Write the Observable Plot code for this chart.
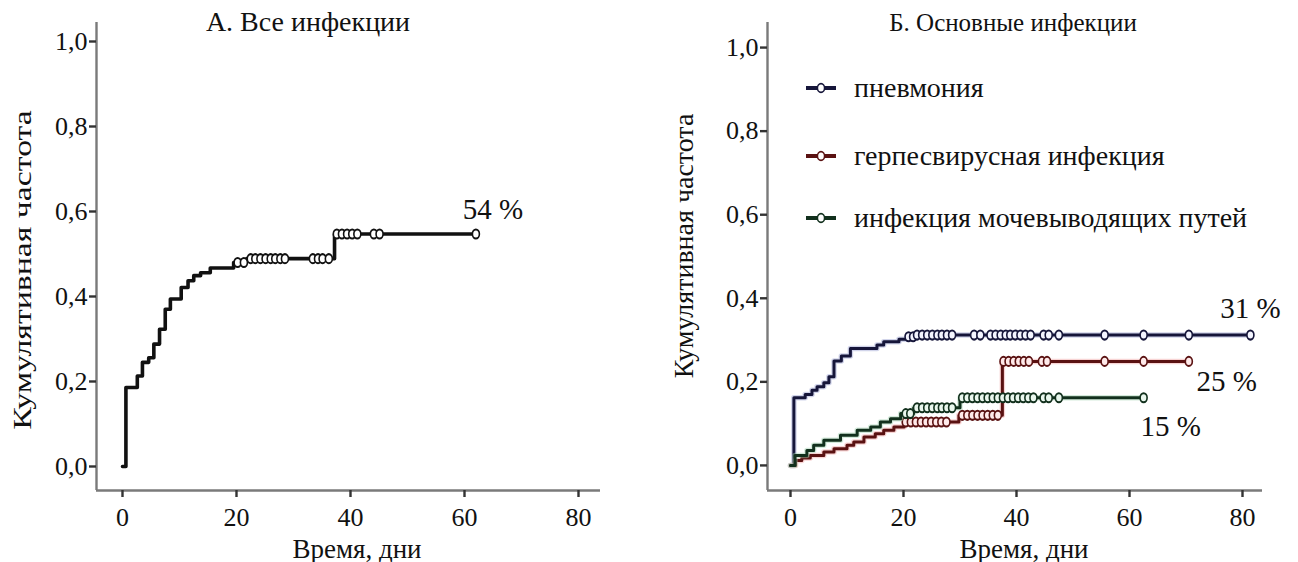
<!DOCTYPE html>
<html><head><meta charset="utf-8">
<script src="https://cdn.jsdelivr.net/npm/d3@7"></script>
<script src="https://cdn.jsdelivr.net/npm/@observablehq/plot@0.6"></script>
<style>
html,body{margin:0;padding:0;background:#fff;}
body{width:1298px;height:562px;position:relative;overflow:hidden;color:#111;}
.panel{position:absolute;top:0;}
.t{position:absolute;white-space:nowrap;line-height:1;font-family:'Liberation Serif';}
.c{transform:translate(-50%,-50%);}
.leg{position:absolute;white-space:nowrap;font-size:28px;line-height:1;transform:translateY(-50%);display:flex;align-items:center;font-family:'Liberation Serif';}
.leg svg{margin-right:17px;}
svg text{font-family:'Liberation Serif';}
svg circle.cens{transform-box:fill-box;transform-origin:center;transform:scaleY(1.3);}
</style></head><body>
<div id="left" class="panel" style="left:0px"></div>
<div id="right" class="panel" style="left:650px"></div>
<div class="t c" style="left:308px;top:22px;font-size:28px;font-family:'Liberation Serif'">А. Все инфекции</div>
<div class="t c" style="left:1013px;top:22px;font-size:25px;font-family:'Liberation Serif'">Б. Основные инфекции</div>
<div class="t c" style="left:357px;top:549px;font-size:27px;font-family:'Liberation Serif'">Время, дни</div>
<div class="t c" style="left:1024px;top:549px;font-size:27px;font-family:'Liberation Serif'">Время, дни</div>
<div class="t" style="left:23px;top:270px;font-size:26px;font-family:'Liberation Serif';transform:translate(-50%,-50%) scaleY(1.3) rotate(-90deg)">Кумулятивная частота</div>
<div class="t" style="left:684px;top:246px;font-size:28px;font-family:'Liberation Serif';transform:translate(-50%,-50%) rotate(-90deg)">Кумулятивная частота</div>
<div id="legend"></div>
<script>
// ---------- data ----------
const xTicks = [0, 20, 40, 60, 80];
const yTicks = [0, 0.2, 0.4, 0.6, 0.8, 1.0];

// Panel A: all infections (event time, cumulative incidence)
const allTimes  = [0, 0.6, 2.6, 3.5, 4.6, 5.5, 6.5, 7.5, 8.4, 10.3, 11.5, 12.5, 13.7, 15.4, 19.5, 21.8, 37.2];
const allValues = [0, 0.186, 0.213, 0.245, 0.256, 0.288, 0.323, 0.37, 0.394, 0.421, 0.437, 0.449, 0.456, 0.467, 0.48, 0.489, 0.547];
const allCensored = [20.2, 21.3, 22.5, 23.3, 24.2, 25.1, 26.0, 26.8, 27.7, 28.5, 33.4, 34.3, 35.1, 36.2,
  37.6, 38.5, 39.4, 40.3, 41.2, 44.1, 45.1, 62.0];
const allLabel = "54 %";

// Panel B: main infections
const seriesNames = ["пневмония", "герпесвирусная инфекция", "инфекция мочевыводящих путей"];
const pneuTimes  = [0, 0.6, 2.6, 3.8, 4.7, 5.9, 6.8, 7.7, 9.0, 10.6, 15.3, 16.5, 19.2, 20.6, 22.0];
const pneuValues = [0, 0.162, 0.170, 0.180, 0.188, 0.198, 0.212, 0.25, 0.262, 0.28, 0.288, 0.296, 0.302, 0.308, 0.312];
const pneuCensored = [20.9, 21.7, 22.4, 23.3, 24.2, 25.1, 26.0, 26.8, 27.7, 28.6, 32.5, 33.6, 35.4, 36.3, 37.2, 38.1,
  38.9, 39.8, 40.7, 41.6, 42.5, 44.8, 45.7, 47.5, 55.6, 62.5, 70.5, 81.4];
const herpTimes  = [0, 0.9, 2.0, 3.5, 5.9, 7.7, 10.0, 11.2, 13.0, 15.0, 16.5, 18.3, 20.1, 29.8, 37.5];
const herpValues = [0, 0.012, 0.018, 0.024, 0.032, 0.04, 0.048, 0.056, 0.068, 0.076, 0.084, 0.092, 0.104, 0.12, 0.249];
const herpCensored = [20.4, 21.3, 22.2, 23.1, 24.0, 24.9, 25.8, 26.7, 27.6, 30.4, 31.3, 32.2, 33.1, 34.0, 34.9, 35.8, 36.7,
  37.7, 38.6, 39.5, 40.4, 41.3, 42.2, 44.5, 45.4, 55.6, 62.5, 70.5];
const utiTimes  = [0, 0.8, 2.9, 4.1, 5.9, 8.85, 11.8, 14.2, 15.9, 17.7, 19.5, 21.8, 30.0];
const utiValues = [0, 0.024, 0.036, 0.048, 0.06, 0.072, 0.084, 0.092, 0.104, 0.112, 0.124, 0.138, 0.162];
const utiCensored = [20.4, 21.2, 22.4, 23.3, 24.2, 25.1, 26.0, 26.8, 27.7, 28.6, 30.4, 31.3, 32.2, 33.1, 34.0, 34.9,
  35.8, 36.7, 37.6, 38.5, 39.4, 40.3, 41.2, 42.1, 43.0, 44.8, 45.7, 47.5, 62.5];
const bLabels = ["31 %", "25 %", "15 %"];

// ---------- helpers ----------
function stepAt(times, values, t) {
  let v = values[0];
  for (let i = 0; i < times.length; i++) if (times[i] <= t) v = values[i];
  return v;
}
function curvePoints(times, values, censored) {
  const pts = times.map((t, i) => ({t, v: values[i]}));
  const end = d3.max(censored);
  pts.push({t: end, v: values[values.length - 1]});
  return pts;
}
const fmt = d => d.toFixed(1).replace(".", ",");
const FONT = "Liberation Serif";

function panel({width, marginLeft, marginRight, xDomain, yDomain, series}) {
  const marks = [
    Plot.ruleX([xDomain[0]], {stroke: "#7a7a7a", strokeWidth: 2.4}),
    Plot.ruleY([yDomain[0]], {stroke: "#7a7a7a", strokeWidth: 2.4}),
    Plot.axisX({ticks: xTicks, tickSize: 7, tickPadding: 10, tickFormat: d => String(d), stroke: "#333", strokeWidth: 2.4, fontSize: 26, fontFamily: FONT, label: null}),
    Plot.axisY({ticks: yTicks, tickSize: 7, tickPadding: 2, tickFormat: fmt, stroke: "#333", strokeWidth: 2.4, fontSize: 26, fontFamily: FONT, label: null})
  ];
  for (const s of series) {
    const pts = curvePoints(s.times, s.values, s.censored);
    marks.push(Plot.line(pts, {x: "t", y: "v", curve: "step-after", stroke: s.halo, strokeWidth: s.width + 2.5, strokeOpacity: 0.45}));
    marks.push(Plot.line(pts, {x: "t", y: "v", curve: "step-after", stroke: s.color, strokeWidth: s.width}));
    marks.push(Plot.dot(s.censored, {x: d => d, y: d => stepAt(s.times, s.values, d), r: 3.5, fill: s.fill, stroke: s.color, strokeWidth: 1.6}));
    const end = d3.max(s.censored);
    marks.push(Plot.text([s.label], {x: () => end, y: () => s.values[s.values.length - 1], text: d => d,
      dx: s.dx, dy: s.dy, fontSize: 29, fontFamily: FONT, fill: "#111"}));
  }
  const svg = Plot.plot({
    width, height: 562,
    marginLeft, marginRight, marginTop: 22, marginBottom: 72,
    x: {domain: xDomain},
    y: {domain: yDomain},
    style: {fontFamily: FONT, color: "#111", background: "transparent", overflow: "visible"},
    marks
  });
  // censoring marks drawn as slightly tall ovals, as in the original figure
  svg.querySelectorAll("circle").forEach(c => c.classList.add("cens"));
  return svg;
}

document.getElementById("left").append(panel({
  width: 640, marginLeft: 96, marginRight: 40,
  xDomain: [-4.56, 83.86], yDomain: [-0.0565, 1.0447],
  series: [{times: allTimes, values: allValues, censored: allCensored, color: "#111", halo: "#ffffff", fill: "#fff",
    width: 3.6, label: allLabel, dx: 17, dy: -24}]
}));

const colors = ["#16163a", "#5a1212", "#12301d"];
const halos = ["#9aa0d0", "#f0a0a0", "#a0d0b0"];
const fills = ["#f4f5ff", "#ffeaea", "#eaf7ee"];
document.getElementById("right").append(panel({
  width: 648, marginLeft: 117, marginRight: 36,
  xDomain: [-4.07, 83.54], yDomain: [-0.06, 1.06],
  series: [
    {times: pneuTimes, values: pneuValues, censored: pneuCensored, color: colors[0], halo: halos[0], fill: fills[0], width: 3, label: bLabels[0], dx: 0, dy: -26},
    {times: herpTimes, values: herpValues, censored: herpCensored, color: colors[1], halo: halos[1], fill: fills[1], width: 3, label: bLabels[1], dx: 38, dy: 20},
    {times: utiTimes, values: utiValues, censored: utiCensored, color: colors[2], halo: halos[2], fill: fills[2], width: 3, label: bLabels[2], dx: 27, dy: 29}
  ]
}));

// legend
const legTops = [88, 156, 218];
const leg = document.getElementById("legend");
seriesNames.forEach((name, i) => {
  const div = document.createElement("div");
  div.className = "leg";
  div.style.left = "805px";
  div.style.top = legTops[i] + "px";
  div.style.fontFamily = "'Liberation Serif'";
  div.innerHTML = `<svg width="32" height="14"><line x1="1" y1="7" x2="31" y2="7" stroke="${colors[i]}" stroke-width="4"/><ellipse cx="16" cy="7" rx="3.6" ry="4.4" fill="#fff" stroke="${colors[i]}" stroke-width="1.6"/></svg><span>${name}</span>`;
  leg.append(div);
});
</script>
</body></html>
